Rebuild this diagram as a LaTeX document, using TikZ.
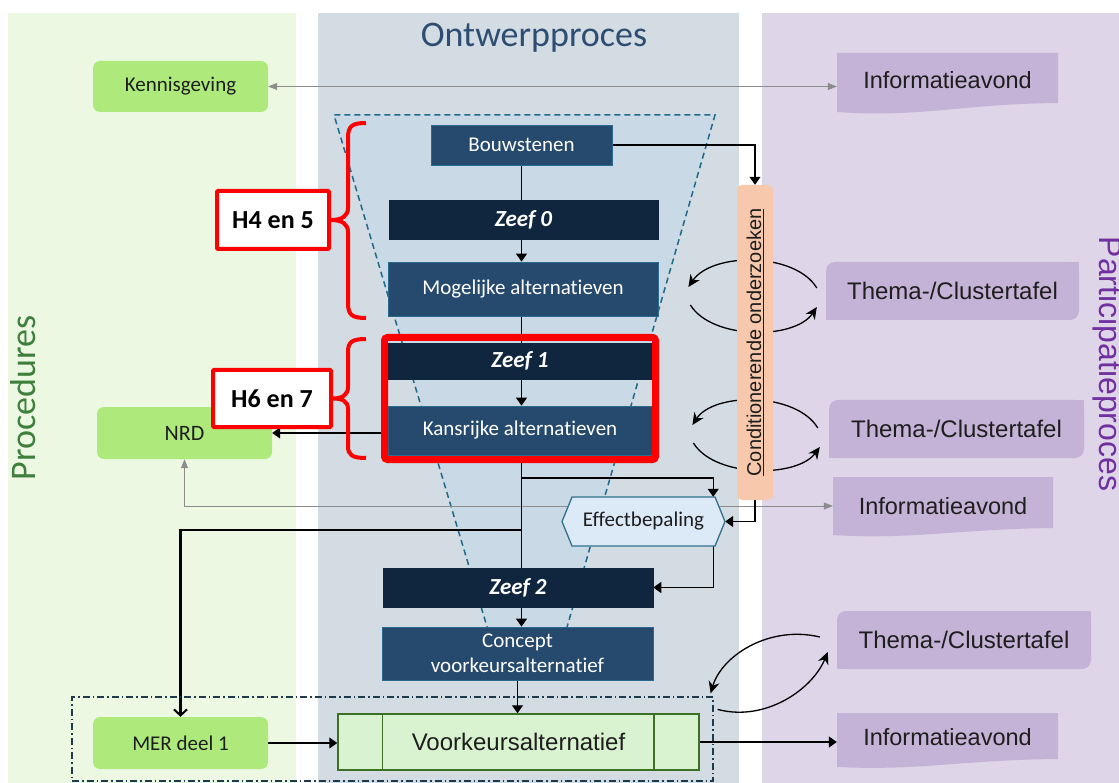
\documentclass[tikz,border=0pt]{standalone}
\usepackage{fontspec}
\setmainfont[Ligatures=NoCommon]{Carlito}
\newfontfamily\aptos{Liberation Sans}
\usetikzlibrary{arrows.meta}
\pgfdeclarelayer{background}
\pgfdeclarelayer{behind}
\pgfsetlayers{background,behind,main}
\definecolor{procbg}{HTML}{EDF8E3}
\definecolor{ontbg}{HTML}{D3DBE3}
\definecolor{partbg}{HTML}{DED5E8}
\definecolor{funnelfill}{HTML}{C9D9E6}
\definecolor{funneledge}{HTML}{1F6A8A}
\definecolor{navy}{HTML}{264A6E}
\definecolor{darknavy}{HTML}{10263F}
\definecolor{boxedge}{HTML}{2A6A8E}
\definecolor{greenfill}{HTML}{AEEA7B}
\definecolor{lilac}{HTML}{C4B3D6}
\definecolor{peach}{HTML}{F7C8AB}
\definecolor{effectfill}{HTML}{DCE9F6}
\definecolor{effectedge}{HTML}{31708F}
\definecolor{voorfill}{HTML}{D9F2D0}
\definecolor{vooredge}{HTML}{3C7024}
\definecolor{titleblue}{HTML}{2E4D72}
\definecolor{procgreen}{HTML}{3E7F3C}
\definecolor{partpurple}{HTML}{7030A0}
\definecolor{greyline}{HTML}{8C8C8C}
\definecolor{dashbox}{HTML}{1F3A4A}
\definecolor{darktext}{HTML}{1E1E1E}
\tikzset{
  navybox/.style={fill=navy, draw=boxedge, line width=0.8pt, text=white, inner sep=0pt, font=\fontsize{21}{25}\selectfont},
  zeefbox/.style={fill=darknavy, draw=darknavy, line width=0.5pt, text=white, inner sep=0pt, font=\fontsize{23}{26}\selectfont\bfseries\itshape},
  greenbox/.style={fill=greenfill, rounded corners=7pt, inner sep=0pt, text=darktext, font=\fontsize{21}{25}\selectfont},
  lilacnode/.style={fill=lilac, rounded corners=9pt, inner sep=0pt, text=darktext, font=\aptos\fontsize{24}{28}\selectfont},
  infotext/.style={inner sep=0pt, text=darktext, font=\aptos\fontsize{23.5}{27}\selectfont},
  hbox/.style={fill=white, draw=red, line width=4pt, rounded corners=1pt, inner sep=0pt, font=\fontsize{26}{30}\selectfont\bfseries},
  brace/.style={draw=red, line width=4pt},
  arr/.style={-{Triangle[length=8pt,width=11pt]}, line width=1.3pt, black},
  conn/.style={line width=1.3pt, black},
  thickarr/.style={-{Straight Barb[length=6pt,width=13pt,line width=2pt]}, line width=2.4pt, black},
  greyarr/.style={{Triangle[length=9pt,width=7pt]}-{Triangle[length=9pt,width=7pt]}, line width=0.8pt, greyline},
  curvarr/.style={-{Stealth[length=12pt,width=11pt]}, line width=1.3pt, black},
}
\begin{document}
\begin{tikzpicture}[x=1pt,y=-1pt]
\useasboundingbox (0,0) rectangle (1119,783);
\begin{pgfonlayer}{background}
\fill[white] (0,0) rectangle (1119,783);
\fill[procbg] (8,13) rectangle (296,783);
\fill[ontbg] (318,13) rectangle (739,783);
\fill[partbg] (762,13) rectangle (1119,783);
% funnel
\fill[funnelfill] (334,115) -- (715,115) -- (565.6,632) -- (488.6,632) -- cycle;
\draw[funneledge, line width=1.5pt, dash pattern=on 6pt off 4pt] (488.6,632) -- (334,115) -- (715,115) -- (565.6,632);
\end{pgfonlayer}

% titles
\node[anchor=base, text=titleblue, font=\fontsize{36}{40}\selectfont] (title) at (534,47) {Ontwerpproces};
\node[rotate=90, anchor=base, text=procgreen, font=\fontsize{36}{40}\selectfont] (proctitle) at (35,398) {Procedures};
\node[rotate=-90, anchor=base, text=partpurple, font=\aptos\fontsize{32}{36}\selectfont] (parttitle) at (1099,364) {Participatieproces};

% dash-dot group
\node[draw=dashbox, line width=1.2pt, dash pattern=on 7pt off 3pt on 1.5pt off 3pt, minimum width=641pt, minimum height=84pt, inner sep=0pt] (grp) at (392.5,739) {};

% procedure nodes
\node[greenbox, minimum width=175pt, minimum height=51pt] (kenn) at (180.5,86.5) {Kennisgeving};
\node[greenbox, minimum width=175pt, minimum height=52pt, font=\fontsize{22}{25}\selectfont] (nrd) at (184.5,433) {NRD};
\node[greenbox, minimum width=175pt, minimum height=52pt] (mer) at (180.5,743) {MER deel 1};

% design process nodes
\node[navybox, minimum width=181pt, minimum height=40pt] (bouw) at (521.5,145) {Bouwstenen};
\node[zeefbox, minimum width=269pt, minimum height=39pt] (zeef0) at (523.5,219.5) {Zeef 0};
\node[navybox, minimum width=270pt, minimum height=54pt] (mog) at (523,289) {Mogelijke alternatieven};
\node[zeefbox, minimum width=264pt, minimum height=36pt] (zeef1) at (520,361) {Zeef 1};
\node[navybox, minimum width=264pt, minimum height=49pt] (kans) at (520,430.5) {Kansrijke alternatieven};
\node[draw=red, line width=7pt, rounded corners=3pt, minimum width=271pt, minimum height=122pt, inner sep=0pt] (hl) at (520,398.5) {};
\node[zeefbox, minimum width=270pt, minimum height=39pt] (zeef2) at (518,587.5) {Zeef 2};
\node[navybox, minimum width=271pt, minimum height=53pt, align=center] (concept) at (517.5,653.5) {Concept\\voorkeursalternatief};

% effectbepaling
\filldraw[fill=effectfill, draw=effectedge, line width=1.3pt] (562,521.5) -- (572,497) -- (715,497) -- (725,521.5) -- (715,546) -- (572,546) -- cycle;
\node[minimum width=163pt, minimum height=49pt, inner sep=0pt, text=darktext, font=\fontsize{21}{24}\selectfont] (effect) at (643.5,521.5) {Effectbepaling};

% voorkeursalternatief
\node[fill=voorfill, draw=vooredge, line width=1.5pt, minimum width=361pt, minimum height=56pt, inner sep=0pt, text=darktext, font=\aptos\fontsize{24}{27}\selectfont] (voor) at (518.5,742) {Voorkeursalternatief};
\draw[vooredge, line width=1.5pt] ([xshift=45pt]voor.north west) -- ([xshift=45pt]voor.south west);
\draw[vooredge, line width=1.5pt] ([xshift=-46pt]voor.north east) -- ([xshift=-46pt]voor.south east);

% conditionerende onderzoeken
\node[fill=peach, rounded corners=5pt, minimum width=36pt, minimum height=315pt, inner sep=0pt] (cond) at (755,342.5) {};
\node[rotate=90, inner sep=0pt, text=darktext, font=\aptos\fontsize{20}{24}\selectfont] (condtext) at (cond.center) {\underline{Conditionerende onderzoeken}};

% participation nodes
\fill[lilac] (837,53) -- (1058,53) -- (1058,103) .. controls (960,104) and (920,118) .. (837,112) -- cycle;
\node[infotext, minimum width=221pt, minimum height=54pt] (info1) at (947.5,80) {Informatieavond};
\node[lilacnode, minimum width=253pt, minimum height=58pt] (th1) at (952.5,291) {Thema-/Clustertafel};
\fill[lilac] (th1.north east) rectangle ++(-12,12);
\fill[lilac] (th1.south west) rectangle ++(12,-12);
\node[lilacnode, minimum width=255pt, minimum height=58pt] (th2) at (956.5,429) {Thema-/Clustertafel};
\fill[lilac] (th2.north east) rectangle ++(-12,12);
\fill[lilac] (th2.south west) rectangle ++(12,-12);
\fill[lilac] (833,477) -- (1053,477) -- (1053,528) .. controls (960,529) and (910,540) .. (833,535) -- cycle;
\node[infotext, minimum width=220pt, minimum height=58pt] (info2) at (943,506) {Informatieavond};
\node[lilacnode, minimum width=254pt, minimum height=58pt] (th3) at (964,640) {Thema-/Clustertafel};
\fill[lilac] (th3.north east) rectangle ++(-12,12);
\fill[lilac] (th3.south west) rectangle ++(12,-12);
\fill[lilac] (837,713) -- (1058,713) -- (1058,759) .. controls (960,760) and (920,771) .. (837,767) -- cycle;
\node[infotext, minimum width=221pt, minimum height=48pt] (info3) at (947.5,737) {Informatieavond};

% chapter labels with braces
\node[hbox, minimum width=112pt, minimum height=58pt] (h4) at (273,220) {H4 en 5};
\node[hbox, minimum width=118pt, minimum height=57pt] (h6) at (272,398.5) {H6 en 7};
\draw[brace] (366,123) .. controls (352,123) and (348,126) .. (348,138) -- (348,208) .. controls (348,216) and (342,220) .. (h4.east) .. controls (342,220) and (348,224) .. (348,232) -- (348,303) .. controls (348,315) and (352,318) .. (366,318);
\draw[brace] (366,339) .. controls (352,339) and (348,342) .. (348,352) -- (348,387) .. controls (348,395) and (342,398.5) .. (h6.east) .. controls (342,398.5) and (348,401) .. (348,409) -- (348,446) .. controls (348,455) and (352,458) .. (366,458);

% connectors
\begin{pgfonlayer}{behind}
\draw[greyarr] (kenn.east) -- (kenn.east -| info1.west);
\draw[greyarr] (nrd.south) |- (info2.west);
% curved arrows through the conditionerende bar
\draw[curvarr] ([shift={(-9,-3)}]th1.west) .. controls (795,252) and (712,252) .. ([shift={(30,-2)}]mog.east);
\draw[curvarr] ([shift={(32,16)}]mog.east) .. controls (712,340) and (795,340) .. ([shift={(-9,16)}]th1.west);
\draw[curvarr] ([shift={(-11,-1)}]th2.west) .. controls (796,392) and (714,392) .. ([shift={(40,-5.5)}]kans.east);
\draw[curvarr] ([shift={(41,12.5)}]kans.east) .. controls (715,478) and (797,478) .. ([shift={(-9,18)}]th2.west);
\draw[curvarr] ([shift={(-17,-3)}]th3.west) .. controls (770,625) and (722,655) .. ([shift={(-3,-3)}]grp.north east);
\draw[curvarr] ([shift={(4,13)}]grp.north east) .. controls (765,722) and (812,690) .. ([shift={(-9,12)}]th3.west);
% main flow
\draw[arr] (bouw.east) -| (cond.north);
\draw[conn] (bouw.south) -- (bouw.south |- zeef0.north);
\draw[arr] (bouw.south |- zeef0.south) -- (bouw.south |- mog.north);
\draw[conn] (bouw.south |- mog.south) -- (bouw.south |- zeef1.north);
\draw[arr] (bouw.south |- zeef1.south) -- (bouw.south |- kans.north);
\draw[conn, line width=1.8pt] (bouw.south |- hl.south) -- (bouw.south |- zeef2.north);
\coordinate (splitA) at (bouw.south |- 0,478);
\coordinate (splitB) at (bouw.south |- 0,530);
\draw[arr] (splitA) -| ([xshift=-12pt]effect.north east);
\draw[thickarr] (splitB) -| (mer.north);
\draw[arr] (hl.west |- nrd.east) -- (nrd.east);
\draw[arr] (cond.south) |- (effect.east);
\draw[arr] ([xshift=-12pt]effect.south east) |- (zeef2.east);
\draw[arr] (bouw.south |- zeef2.south) -- (bouw.south |- concept.north);
\draw[arr] (concept.south) -- (concept.south |- voor.north);
\draw[arr] (mer.east) -- (mer.east -| voor.west);
\draw[arr] (voor.east) -- (voor.east -| info3.west);
\end{pgfonlayer}
\end{tikzpicture}
\end{document}
